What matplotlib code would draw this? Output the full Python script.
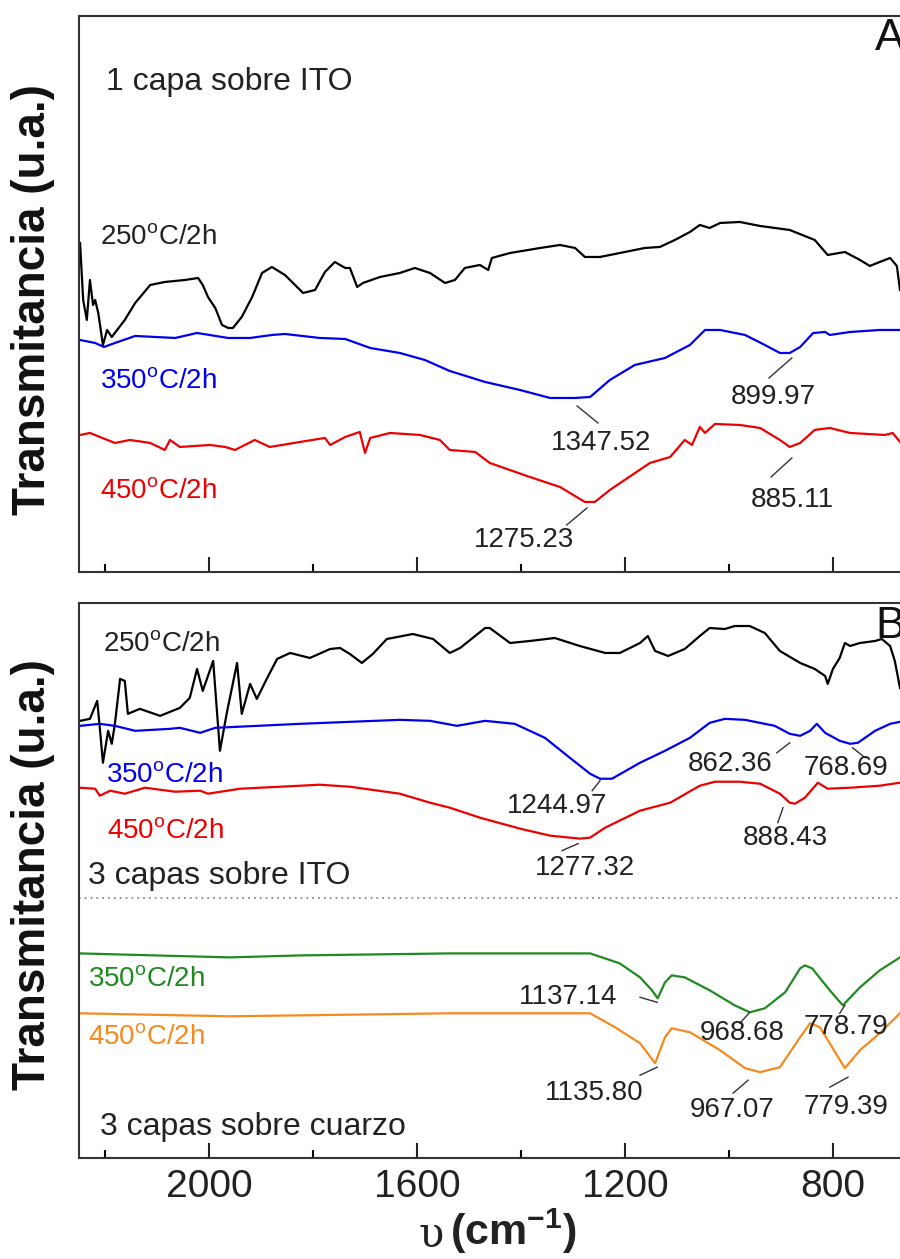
import numpy as np
import matplotlib
matplotlib.use("Agg")
import matplotlib.pyplot as plt
from matplotlib.ticker import MultipleLocator

plt.rcParams['font.family'] = ['Liberation Sans', 'DejaVu Sans']
plt.rcParams['mathtext.fontset'] = 'custom'
plt.rcParams['mathtext.rm'] = 'Liberation Sans'
plt.rcParams['mathtext.bf'] = 'Liberation Sans:bold'
plt.rcParams['mathtext.it'] = 'Liberation Sans:italic'

# ----------------------------------------------------------------
#  DATA  (wavenumber cm-1, transmittance in arbitrary units)
# ----------------------------------------------------------------
# Panel A : 1 capa sobre ITO
a250_w = [2248, 2242, 2235, 2229, 2223, 2219, 2213, 2204, 2196, 2187, 2162, 2142, 2113,
          2085, 2046, 2021, 2012, 2002, 1988, 1975, 1963, 1954, 1937, 1917, 1898, 1879,
          1854, 1819, 1796, 1777, 1758, 1738, 1729, 1715, 1704, 1671, 1633, 1604, 1575,
          1546, 1527, 1508, 1479, 1463, 1456, 1421, 1363, 1325, 1296, 1277, 1248, 1200,
          1162, 1133, 1104, 1075, 1056, 1037, 1017, 979, 940, 883, 835, 810, 777, 748,
          729, 710, 690, 677, 671]
a250_t = [329, 272, 252, 292, 267, 272, 259, 227, 242, 235, 252, 269, 287,
          290, 292, 294, 287, 275, 264, 247, 244, 244, 255, 275, 299, 305,
          297, 279, 282, 300, 310, 304, 304, 285, 289, 295, 299, 304, 299,
          289, 292, 304, 307, 302, 314, 319, 324, 327, 324, 315, 315, 320,
          324, 325, 332, 340, 347, 344, 349, 350, 346, 342, 332, 317, 320, 312,
          306, 310, 314, 306, 282]

a350_w = [2248, 2219, 2202, 2181, 2142, 2065, 2023, 1963, 1921, 1879, 1854, 1787, 1738,
          1690, 1633, 1585, 1537, 1469, 1402, 1344, 1296, 1267, 1229, 1181, 1123, 1075,
          1046, 1017, 969, 931, 902, 883, 863, 838, 815, 806, 767, 710, 671]
a350_t = [232, 229, 225, 229, 236, 234, 239, 234, 234, 237, 238, 234, 233,
          224, 219, 212, 201, 190, 182, 174, 174, 175, 192, 207, 214, 227,
          242, 242, 237, 227, 219, 219, 225, 239, 240, 237, 240, 242, 242]

a450_w = [2248, 2229, 2210, 2181, 2152, 2113, 2085, 2075, 2056, 1998, 1969, 1950, 1912,
          1883, 1825, 1777, 1767, 1738, 1710, 1700, 1690, 1652, 1594, 1556, 1537, 1488,
          1460, 1383, 1325, 1277, 1258, 1229, 1152, 1113, 1085, 1071, 1056, 1046, 1027,
          979, 940, 902, 883, 863, 835, 806, 767, 700, 685, 671]
a450_t = [137, 139, 135, 129, 132, 129, 122, 132, 125, 127, 125, 122, 132,
          125, 130, 134, 127, 135, 140, 119, 134, 139, 137, 132, 122, 120,
          109, 95, 85, 70, 70, 82, 109, 115, 132, 127, 145, 139, 148,
          147, 144, 132, 125, 129, 142, 144, 139, 137, 139, 130]

# Panel B : 3 capas sobre ITO / 3 capas sobre cuarzo
b250_w = [2248, 2229, 2215, 2210, 2204, 2194, 2187, 2181, 2171, 2162, 2156, 2133, 2094,
          2056, 2037, 2023, 2012, 1992, 1979, 1965, 1946, 1937, 1921, 1908, 1888, 1869,
          1844, 1806, 1767, 1748, 1729, 1706, 1685, 1658, 1608, 1569, 1537, 1517, 1469,
          1460, 1421, 1383, 1335, 1287, 1238, 1210, 1171, 1156, 1142, 1117, 1085, 1056,
          1037, 1008, 989, 960, 931, 902, 863, 835, 815, 810, 800, 787, 777, 767, 748,
          719, 706, 690, 681, 671]
b250_t = [438, 440, 458, 431, 396, 428, 415, 435, 480, 478, 445, 450, 443,
          451, 461, 490, 468, 498, 408, 448, 496, 445, 475, 460, 481, 500,
          506, 501, 510, 511, 505, 496, 505, 520, 525, 520, 506, 511, 531,
          531, 516, 518, 521, 513, 506, 506, 516, 523, 508, 503, 510, 523,
          531, 530, 533, 533, 526, 508, 496, 490, 483, 475, 490, 501, 516, 513, 516,
          518, 520, 513, 498, 471]

b350_w = [2248, 2210, 2181, 2142, 2075, 2056, 2017, 1988, 1825, 1633, 1575, 1523, 1469,
          1412, 1354, 1306, 1267, 1248, 1225, 1171, 1123, 1075, 1037, 1008, 969, 912,
          883, 863, 844, 831, 815, 787, 767, 752, 719, 690, 671]
b350_t = [433, 435, 433, 428, 430, 431, 426, 431, 435, 439, 438, 433, 438,
          435, 421, 401, 385, 380, 380, 396, 408, 421, 436, 440, 439, 433,
          425, 423, 428, 435, 426, 418, 415, 416, 428, 435, 437]

b450_w = [2248, 2219, 2210, 2190, 2162, 2123, 2065, 2017, 2002, 1940, 1787, 1729, 1633,
          1575, 1537, 1479, 1402, 1344, 1287, 1267, 1238, 1171, 1113, 1056, 1027, 979,
          940, 902, 883, 873, 854, 829, 810, 767, 710, 671]
b450_t = [371, 370, 363, 368, 365, 371, 367, 368, 365, 370, 374, 372, 365,
          356, 351, 341, 330, 323, 320, 321, 331, 348, 356, 373, 377, 377,
          375, 365, 356, 355, 361, 376, 370, 371, 373, 376]

q350_w = [2248, 1960, 1825, 1537, 1267, 1210, 1171, 1148, 1137, 1123, 1110, 1085, 1037,
          989, 960, 931, 892, 863, 854, 840, 806, 781, 748, 710, 671]
q350_t = [205, 201, 203, 205, 205, 195, 181, 168, 160, 176, 183, 181, 168,
          153, 146, 150, 166, 190, 193, 190, 168, 153, 171, 188, 201]

q450_w = [2248, 1960, 1537, 1267, 1219, 1171, 1142, 1123, 1110, 1075, 1017, 969, 940,
          902, 863, 844, 825, 777, 748, 710, 671]
q450_t = [145, 142, 145, 145, 131, 115, 95, 121, 130, 126, 108, 90, 86,
          91, 121, 135, 131, 90, 108, 125, 145]

# peak labels: text, text position, leader line start, leader line end
peaks_a = [
    ('1347.52', (1246, 129), (1292, 166), (1252, 149)),
    ('899.97', (914, 175), (879, 214), (923, 194)),
    ('1275.23', (1394, 32), (1273, 64), (1312, 47)),
    ('885.11', (879, 72), (879, 114), (919, 95)),
]
peaks_b = [
    ('1244.97', (1331, 353), (1248, 378), (1263, 368)),
    ('862.36', (998, 395), (883, 416), (908, 406)),
    ('768.69', (775, 391), (762, 411), (738, 401)),
    ('888.43', (892, 321), (896, 351), (906, 336)),
    ('1277.32', (1277, 291), (1290, 315), (1321, 308)),
    ('1137.14', (1310, 161), (1171, 161), (1138, 156)),
    ('968.68', (975, 125), (960, 146), (979, 135)),
    ('778.79', (775, 131), (777, 153), (787, 145)),
    ('1135.80', (1260, 65), (1138, 91), (1171, 83)),
    ('967.07', (994, 48), (963, 78), (992, 65)),
    ('779.39', (775, 51), (771, 81), (806, 71)),
]

BLACK, BLUE, RED = '#000000', '#0000ee', '#ee0000'
GREEN, ORANGE = '#1f8a1f', '#f58a1f'
DEG = r'$^{\mathrm{o}}$'

# ----------------------------------------------------------------
#  FIGURE
# ----------------------------------------------------------------
fig = plt.figure(figsize=(9, 12.59), dpi=100)
axA = fig.add_axes([0.0878, 0.5457, 0.9122, 0.4416])
axB = fig.add_axes([0.0878, 0.0802, 0.9122, 0.4408])

for ax in (axA, axB):
    ax.set_xlim(2250, 671)
    ax.set_ylim(0, 556)
    ax.xaxis.set_major_locator(MultipleLocator(400))
    ax.xaxis.set_minor_locator(MultipleLocator(200))
    ax.set_yticks([])
    ax.tick_params(axis='x', which='major', direction='in', length=11, width=1.5,
                   labelsize=28, pad=8, colors='#222222')
    ax.tick_params(axis='x', which='minor', direction='in', length=6, width=1.5)
    ax.spines['right'].set_visible(False)
    for s in ('left', 'bottom', 'top'):
        ax.spines[s].set_linewidth(1.5)
        ax.spines[s].set_color('#333333')
    ax.set_ylabel('Transmitancia (u.a.)', fontsize=33, fontweight='bold', color='#111111')

axA.tick_params(axis='x', labelbottom=False)
axA.yaxis.set_label_coords(-0.029, 0.49)
axB.yaxis.set_label_coords(-0.029, 0.51)

lw = 1.6
axA.plot(a250_w, a250_t, color=BLACK, lw=lw)
axA.plot(a350_w, a350_t, color=BLUE, lw=lw)
axA.plot(a450_w, a450_t, color=RED, lw=lw)

axB.plot(b250_w, b250_t, color=BLACK, lw=lw)
axB.plot(b350_w, b350_t, color=BLUE, lw=lw)
axB.plot(b450_w, b450_t, color=RED, lw=lw)
axB.plot(q350_w, q350_t, color=GREEN, lw=lw)
axB.plot(q450_w, q450_t, color=ORANGE, lw=lw)
axB.axhline(261, color='#777777', lw=1.2, ls=(0, (1, 2.5)))

# labels inside panels
lab = dict(ha='left', va='center', fontsize=20)
axA.text(2198, 490, '1 capa sobre ITO', color='#222222', fontsize=23, ha='left', va='center')
axA.text(2210, 335, '250' + DEG + 'C/2h', color='#222222', **lab)
axA.text(2210, 191, '350' + DEG + 'C/2h', color=BLUE, **lab)
axA.text(2210, 81, '450' + DEG + 'C/2h', color=RED, **lab)
axA.text(719, 533, 'A', fontsize=32, ha='left', va='center', color='#111111', clip_on=False)

axB.text(2204, 515, '250' + DEG + 'C/2h', color='#222222', **lab)
axB.text(2198, 384, '350' + DEG + 'C/2h', color=BLUE, **lab)
axB.text(2196, 328, '450' + DEG + 'C/2h', color=RED, **lab)
axB.text(2233, 283, '3 capas sobre ITO', color='#222222', fontsize=23, ha='left', va='center')
axB.text(2233, 179, '350' + DEG + 'C/2h', color=GREEN, **lab)
axB.text(2233, 121, '450' + DEG + 'C/2h', color=ORANGE, **lab)
axB.text(2210, 31, '3 capas sobre cuarzo', color='#222222', fontsize=23, ha='left', va='center')
axB.text(719, 533, 'B', fontsize=32, ha='left', va='center', color='#111111', clip_on=False)

for ax, peaks in ((axA, peaks_a), (axB, peaks_b)):
    for txt, (tx, ty), (x0, y0), (x1, y1) in peaks:
        ax.text(tx, ty, txt, fontsize=20, ha='center', va='center', color='#222222')
        ax.plot([x0, x1], [y0, y1], color='#333333', lw=1.0)

# x label: upsilon (cm^-1)
fig.text(431 / 900, 1 - 1247 / 1259, 'υ', fontsize=30, family='DejaVu Serif',
         ha='center', va='baseline', color='#222222')
fig.text(450 / 900, 1 - 1245 / 1259, r'(cm$^{\mathbf{-1}}$)', fontsize=31,
         fontweight='bold', ha='left', va='baseline', color='#222222')

fig.savefig('out.png', dpi=100)
